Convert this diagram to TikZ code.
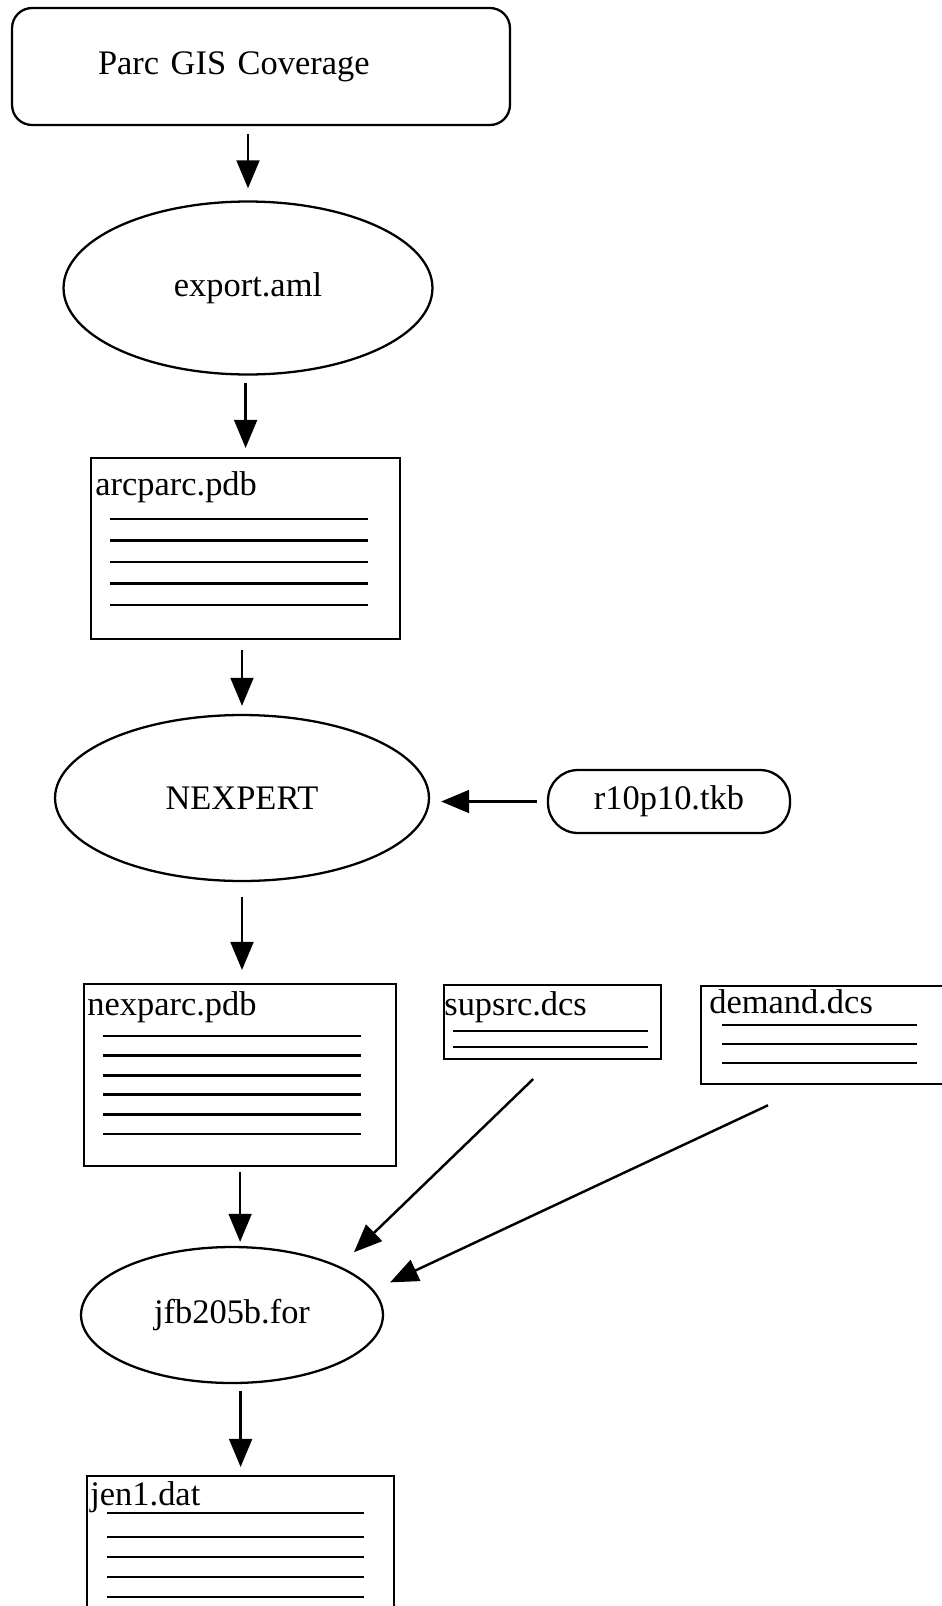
\documentclass[tikz,border=0pt]{standalone}
\usepackage{fontspec}
\setmainfont{Liberation Serif}
\usetikzlibrary{arrows.meta,positioning,calc,shapes.geometric}

\tikzset{
  box/.style={draw,line width=1.3pt,inner sep=0pt},
  proc/.style={box,ellipse},
  doc/.style={box,anchor=north west},
  doctitle/.style={inner sep=0pt,anchor=base west},
  rule/.style={line width=1.6pt},
  flow/.style={line width=1.4pt,-{Triangle[length=16pt,width=13pt]}}
}

\begin{document}
\begin{tikzpicture}[x=0.02cm,y=-0.02cm,font=\fontsize{19.6}{23}\selectfont]
  \useasboundingbox (0,0) rectangle (942,1606);

  % coverage and export
  \node[box,rounded corners=0.4cm,minimum width=9.96cm,minimum height=2.34cm,
        inner xsep=1.72cm,text width=6.52cm,align=left] (parc) at (261,66.5) {Parc GIS Coverage};
  \node[proc,minimum width=7.38cm,minimum height=3.46cm] (export) at (248,288) {export.aml};

  \node[doc,minimum width=6.18cm,minimum height=3.62cm] (arcparc) at (90,457) {};
  \node[doctitle] (arcparcname) at ($(arcparc.north west)+(5,38)$) {arcparc.pdb};
  \foreach \y in {519,540.5,562,583.5,605}
    \draw[rule] (110,\y) -- (368,\y);

  % expert system
  \node[proc,minimum width=7.48cm,minimum height=3.32cm] (nexpert) at (242,798) {NEXPERT};
  \node[box,rounded corners=0.6cm,minimum width=4.84cm,minimum height=1.26cm] (rules) at (669,801.5) {r10p10.tkb};

  \node[doc,minimum width=6.24cm,minimum height=3.64cm] (nexparc) at (83,983) {};
  \node[doctitle] (nexparcname) at ($(nexparc.north west)+(4,32)$) {nexparc.pdb};
  \foreach \y in {1036,1055.6,1075.2,1094.8,1114.4,1134}
    \draw[rule] (103,\y) -- (361,\y);

  \node[doc,minimum width=4.34cm,minimum height=1.48cm] (supsrc) at (443,984) {};
  \node[doctitle] (supsrcname) at ($(supsrc.north west)+(1,31)$) {supsrc.dcs};
  \foreach \y in {1031,1047}
    \draw[rule] (453,\y) -- (648,\y);

  \node[doc,minimum width=5cm,minimum height=1.96cm] (demand) at (700,985) {};
  \node[doctitle] (demandname) at ($(demand.north west)+(9,28)$) {demand.dcs};
  \foreach \y in {1025,1044,1063}
    \draw[rule] (722,\y) -- (917,\y);

  % fortran step and output
  \node[proc,minimum width=6.04cm,minimum height=2.72cm] (jfb) at (232,1315) {jfb205b.for};

  \node[doc,minimum width=6.14cm,minimum height=3.2cm] (jen) at (86,1475) {};
  \node[doctitle] (jenname) at ($(jen.north west)+(4,30)$) {jen1.dat};
  \foreach \y in {1513,1537,1557,1577,1597}
    \draw[rule] (107,\y) -- (364,\y);

  % arrows
  \draw[flow,shorten <=0.16cm,shorten >=0.24cm] (parc.south -| export.north) -- (export.north);
  \draw[flow,shorten <=0.14cm,shorten >=0.18cm] (export.south -| arcparc.north) -- (arcparc.north);
  \draw[flow,shorten <=0.2cm,shorten >=0.16cm] (arcparc.south -| nexpert.north) -- (nexpert.north);
  \draw[flow,shorten <=0.2cm,shorten >=0.22cm] (rules.west) -- (rules.west -| nexpert.east);
  \draw[flow,shorten <=0.3cm,shorten >=0.26cm] (nexpert.south) -- (nexpert.south |- nexparc.north);
  \draw[flow,shorten <=0.1cm,shorten >=0.08cm] (nexparc.south) -- (nexparc.south |- jfb.north);
  \draw[flow,shorten <=0.54cm,shorten >=0.4cm] (supsrc.south) -- (jfb.north east);
  \draw[flow,shorten >=0.36cm] ($(demand.south west)+(68,20)$) -- (jfb.10);
  \draw[flow,shorten <=0.14cm,shorten >=0.16cm] (jfb.south -| jen.north) -- (jen.north);
\end{tikzpicture}
\end{document}
